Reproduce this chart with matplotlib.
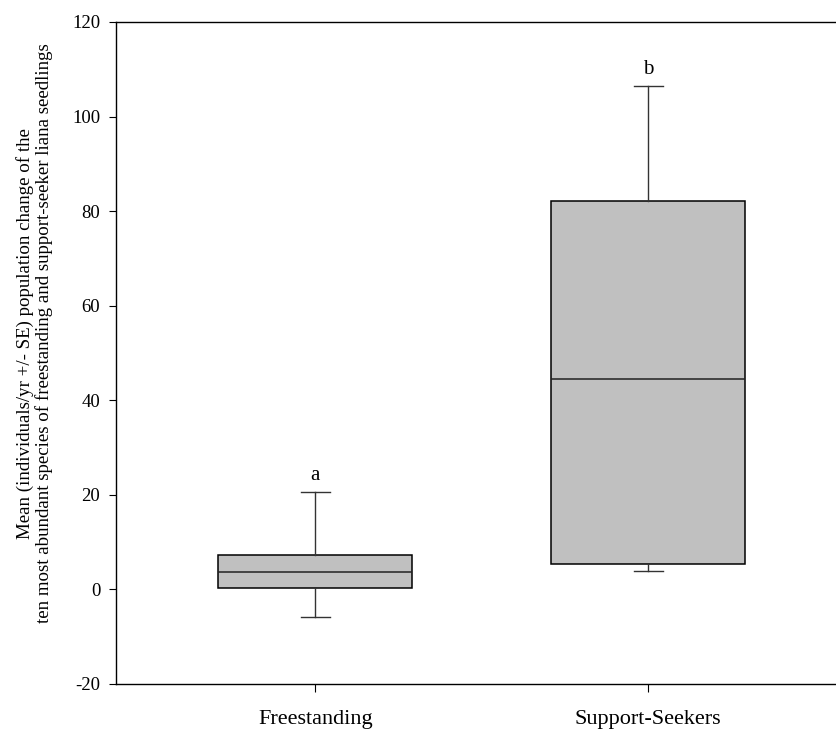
import matplotlib
matplotlib.use("Agg")
import matplotlib.pyplot as plt

plt.rcParams['font.family'] = ['Liberation Serif', 'DejaVu Serif']
plt.rcParams['axes.unicode_minus'] = False

# box summaries for the two growth forms
groups = ['Freestanding', 'Support-Seekers']
q1 = [0.3, 5.4]
median = [3.6, 44.5]
q3 = [7.3, 82.2]
whisker_lo = [-5.8, 3.9]
whisker_hi = [20.6, 106.4]
letters = ['a', 'b']

stats = []
for i in range(len(groups)):
    stats.append(dict(med=median[i], q1=q1[i], q3=q3[i],
                      whislo=whisker_lo[i], whishi=whisker_hi[i],
                      fliers=[], label=groups[i]))

fig = plt.figure(figsize=(8.36, 7.35), dpi=100)
ax = fig.add_axes([115.5 / 836, 51 / 735, 732.5 / 836, 662 / 735])

positions = [1, 2]
ax.bxp(stats, positions=positions, widths=0.583, capwidths=0.087,
       patch_artist=True, showfliers=False,
       boxprops=dict(facecolor='#c0c0c0', edgecolor='black', linewidth=1.1),
       medianprops=dict(color='#222222', linewidth=1.1),
       whiskerprops=dict(color='#333333', linewidth=1.0),
       capprops=dict(color='#333333', linewidth=1.0))

for x, top, txt in zip(positions, whisker_hi, letters):
    ax.annotate(txt, (x, top), xytext=(0, 5), textcoords='offset points',
                ha='center', va='bottom', fontsize=15)

ax.set_xlim(0.4, 2.6)
ax.set_ylim(-20, 120)
ax.set_yticks(range(-20, 121, 20))
ax.set_xticks(positions)
ax.set_xticklabels(groups, fontsize=16)
ax.tick_params(axis='y', direction='out', length=5, width=0.8, pad=6, labelsize=13.5)
ax.tick_params(axis='x', direction='out', length=6, width=0.8, pad=13)

for side in ['left', 'bottom', 'top']:
    ax.spines[side].set_linewidth(1.0)
ax.spines['right'].set_visible(False)

ax.set_ylabel('Mean (individuals/yr +/- SE) population change of the\n'
              'ten most abundant species of freestanding and support-seeker liana seedlings',
              fontsize=13.6, linespacing=1.1)
ax.yaxis.set_label_coords(-0.085, 0.53)

fig.savefig('out.png', dpi=100)
